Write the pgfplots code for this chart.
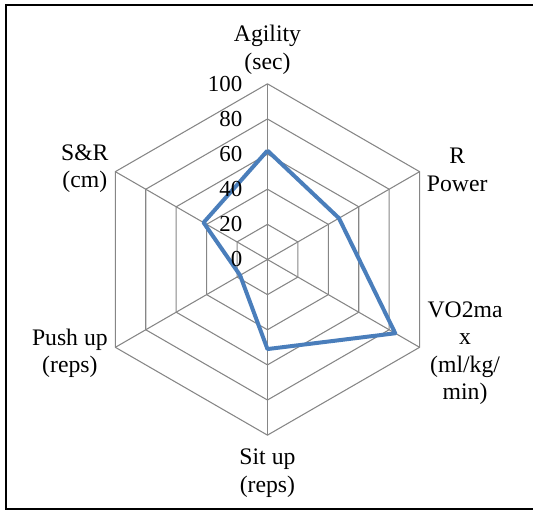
\documentclass[border=0pt]{standalone}
\usepackage{fontspec}
\setmainfont{Liberation Serif}
\usepackage{pgfplots}
\pgfplotsset{compat=1.18}
\definecolor{gridgray}{HTML}{868686}
\definecolor{seriesblue}{HTML}{4A7EBB}
\newcommand{\lblfont}{\fontsize{17.8}{20.6}\selectfont}
\newcommand{\tickfont}{\fontsize{17.2}{20.6}\selectfont}
\begin{document}
\begin{tikzpicture}
\begin{axis}[
  x=1.32pt, y=1.32pt,
  xmin=-152.27, xmax=151.14, ymin=-143.18, ymax=147.73,
  hide axis, clip=false,
  grid line/.style={gridgray, line width=0.8pt, line join=miter, data cs=polar, forget plot},
]
% grid hexagons
\addplot[grid line] coordinates {(90,20) (30,20) (-30,20) (-90,20) (-150,20) (150,20) (90,20)};
\addplot[grid line] coordinates {(90,40) (30,40) (-30,40) (-90,40) (-150,40) (150,40) (90,40)};
\addplot[grid line] coordinates {(90,60) (30,60) (-30,60) (-90,60) (-150,60) (150,60) (90,60)};
\addplot[grid line] coordinates {(90,80) (30,80) (-30,80) (-90,80) (-150,80) (150,80) (90,80)};
\addplot[grid line] coordinates {(90,100) (30,100) (-30,100) (-90,100) (-150,100) (150,100) (90,100)};
% spokes
\addplot[grid line] coordinates {(90,0) (90,100)};
\addplot[grid line] coordinates {(30,0) (30,100)};
\addplot[grid line] coordinates {(-30,0) (-30,100)};
\addplot[grid line] coordinates {(-90,0) (-90,100)};
\addplot[grid line] coordinates {(-150,0) (-150,100)};
\addplot[grid line] coordinates {(150,0) (150,100)};
% data series
\addplot[seriesblue, line width=3pt, line join=round, data cs=polar] coordinates {
  (90,62) (30,47) (-30,84) (-90,51) (-150,18) (150,42) (90,62)
};
% tick labels
\node[anchor=east, inner sep=0pt, font=\tickfont] at (axis cs:-14.2,0) {0};
\node[anchor=east, inner sep=0pt, font=\tickfont] at (axis cs:-14.2,20) {20};
\node[anchor=east, inner sep=0pt, font=\tickfont] at (axis cs:-14.2,40) {40};
\node[anchor=east, inner sep=0pt, font=\tickfont] at (axis cs:-14.2,60) {60};
\node[anchor=east, inner sep=0pt, font=\tickfont] at (axis cs:-14.2,80) {80};
\node[anchor=east, inner sep=0pt, font=\tickfont] at (axis cs:-14.2,100) {100};
% category labels
\node[align=center, inner sep=0pt, font=\lblfont] at (axis cs:0,119.3) {Agility\\(sec)};
\node[align=center, inner sep=0pt, font=\lblfont] at (axis cs:108.0,51.1) {R\\Power};
\node[align=center, inner sep=0pt, font=\lblfont] at (axis cs:112.5,-53.4) {VO2ma\\x\\(ml/kg/\\min)};
\node[align=center, inner sep=0pt, font=\lblfont] at (axis cs:0,-121.6) {Sit up\\(reps)};
\node[align=center, inner sep=0pt, font=\lblfont] at (axis cs:-112.5,-53.4) {Push up\\(reps)};
\node[align=center, inner sep=0pt, font=\lblfont] at (axis cs:-104.0,51.7) {S\&R\\(cm)};
% frame
\draw[black, line width=1.6pt] (axis cs:151.14,144.9) -- (axis cs:-148.9,144.9) -- (axis cs:-148.9,-142.0) -- (axis cs:151.14,-142.0);
\path (axis cs:-152.27,-143.18) rectangle (axis cs:151.14,147.73);
\end{axis}
\end{tikzpicture}
\end{document}
